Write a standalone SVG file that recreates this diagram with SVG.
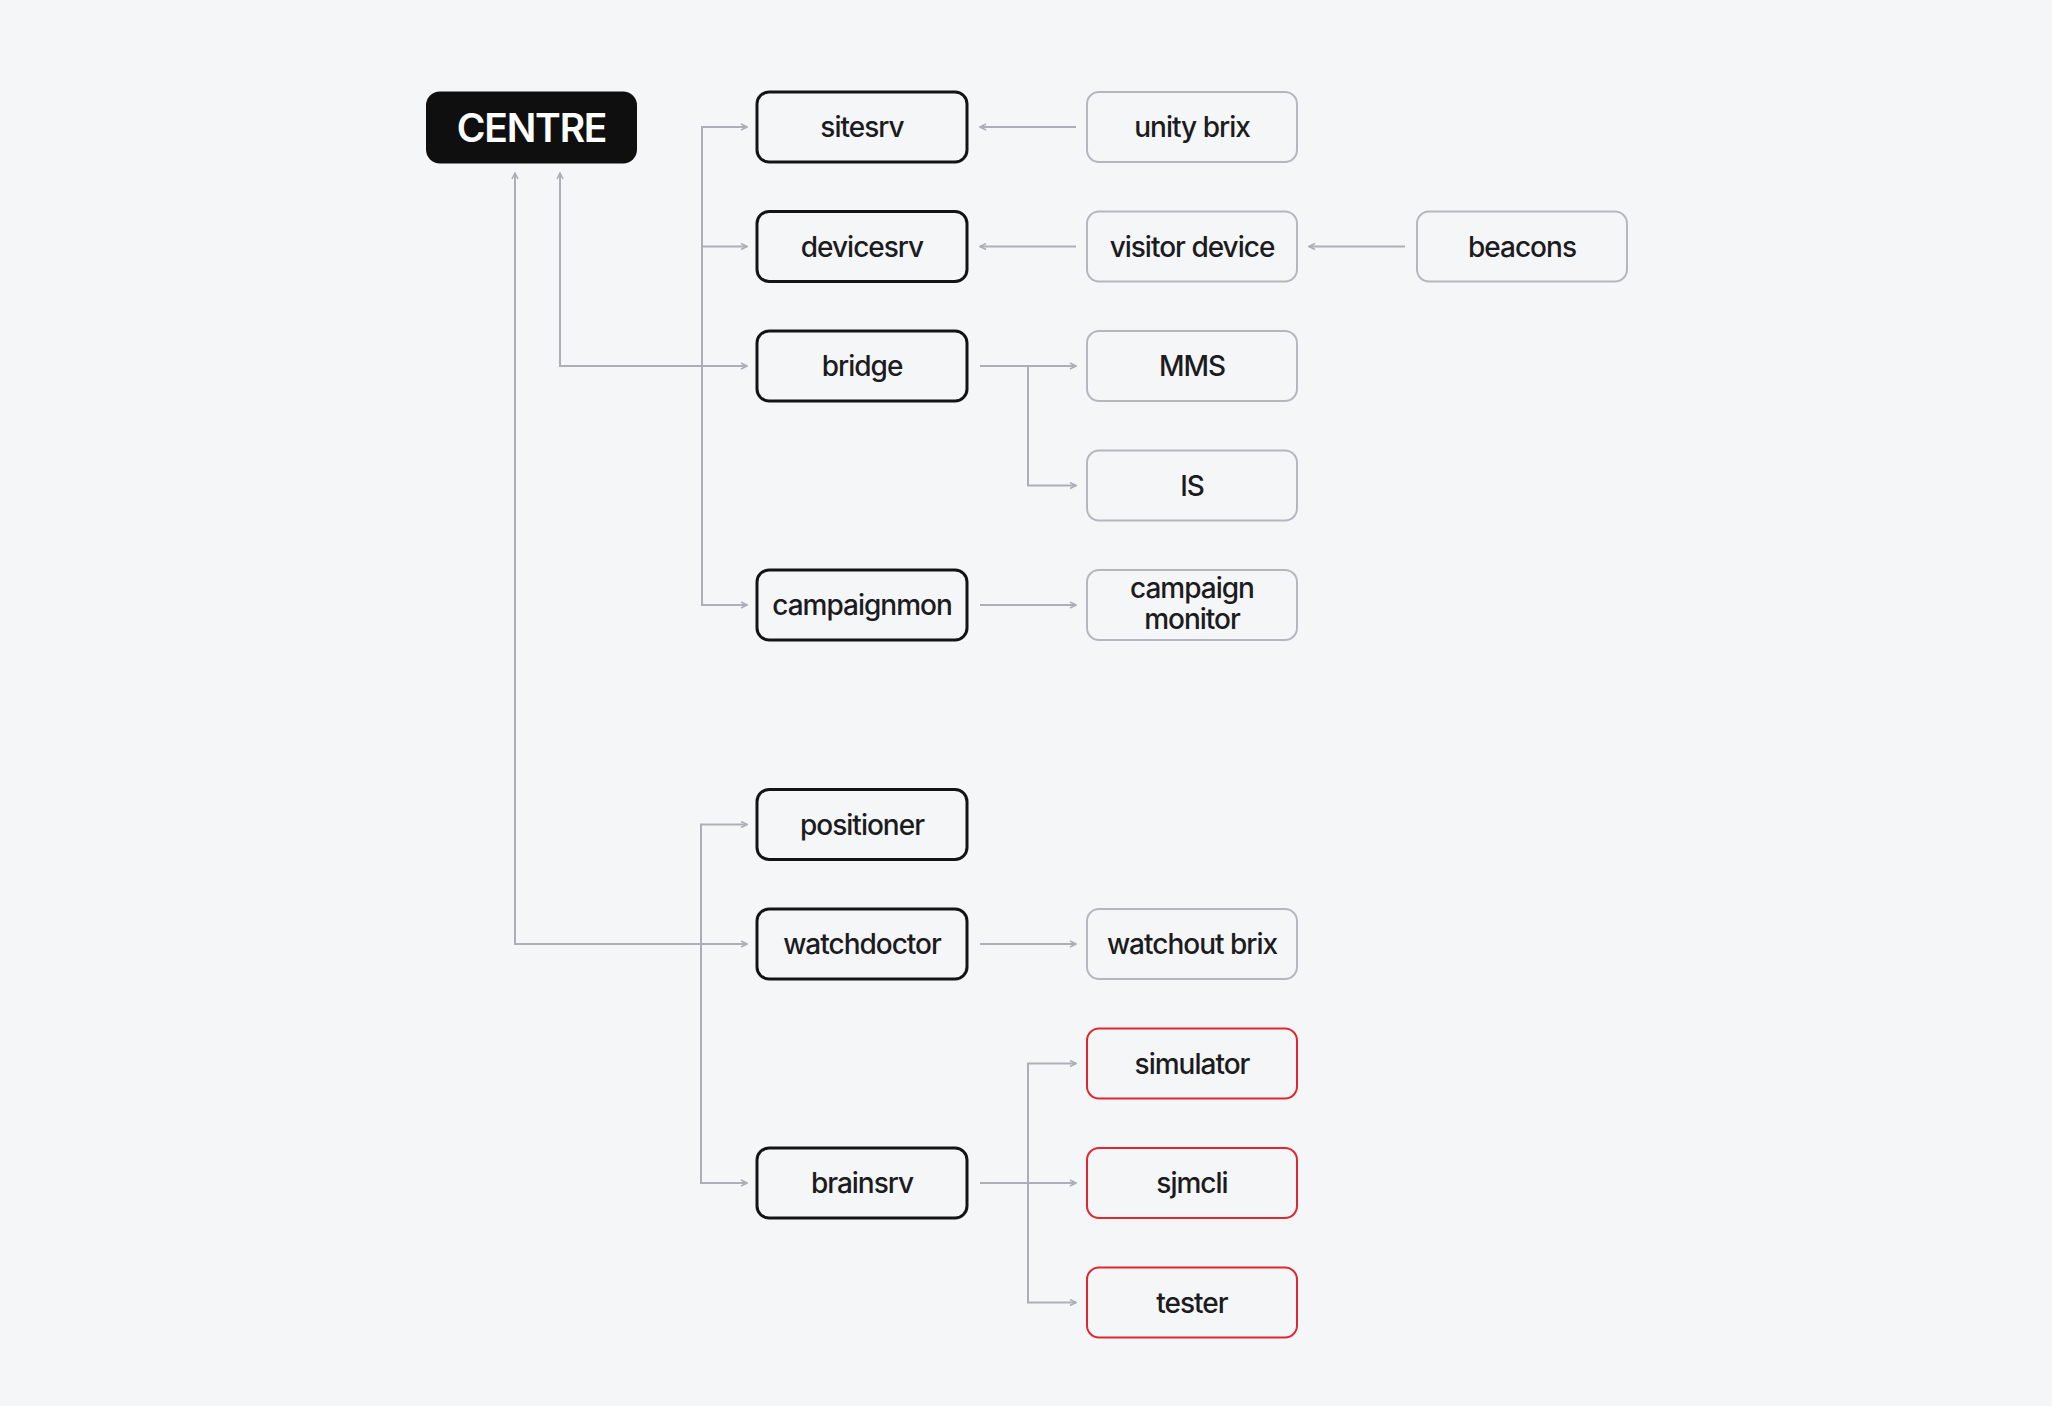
<svg xmlns="http://www.w3.org/2000/svg" width="2052" height="1406" viewBox="0 0 2052 1406">
<defs>
<style>
.bg{fill:#f5f6f8}
.dk{fill:#f5f6f8;stroke:#141414;stroke-width:3}
.gr{fill:#f5f6f8;stroke:#b4b7be;stroke-width:2}
.rd{fill:#f5f6f8;stroke:#e0262e;stroke-width:2}
.t{font-family:Inter,"Liberation Sans",sans-serif;font-size:28px;font-weight:500;fill:#1c1c1e;text-anchor:middle;letter-spacing:-1px}
.ct{font-family:Inter,"Liberation Sans",sans-serif;font-size:39px;font-weight:600;fill:#ffffff;text-anchor:middle;letter-spacing:-1.2px}
.ln{fill:none;stroke:#acafb7;stroke-width:2}
</style>
<marker id="ah" viewBox="0 0 8 8" refX="7" refY="4" markerWidth="8" markerHeight="8" markerUnits="userSpaceOnUse" orient="auto-start-reverse">
<path d="M1,1 L7,4 L1,7" fill="none" stroke="#acafb7" stroke-width="1.6"/>
</marker>
</defs>
<rect class="bg" x="0" y="0" width="2052" height="1406"/>

<g id="connectors">
<path class="ln" d="M747,127 H702 V605 H747" marker-start="url(#ah)" marker-end="url(#ah)"/>
<path class="ln" d="M702,246.5 H747" marker-end="url(#ah)"/>
<path class="ln" d="M560,173 V366 H747" marker-start="url(#ah)" marker-end="url(#ah)"/>
<path class="ln" d="M515,173 V944 H747" marker-start="url(#ah)" marker-end="url(#ah)"/>
<path class="ln" d="M747,824.5 H701 V1183 H747" marker-start="url(#ah)" marker-end="url(#ah)"/>
<path class="ln" d="M1076,127 H980" marker-end="url(#ah)"/>
<path class="ln" d="M1076,246.5 H980" marker-end="url(#ah)"/>
<path class="ln" d="M1405,246.5 H1309" marker-end="url(#ah)"/>
<path class="ln" d="M980,366 H1076" marker-end="url(#ah)"/>
<path class="ln" d="M1028,366 V485.5 H1076" marker-end="url(#ah)"/>
<path class="ln" d="M980,605 H1076" marker-end="url(#ah)"/>
<path class="ln" d="M980,944 H1076" marker-end="url(#ah)"/>
<path class="ln" d="M980,1183 H1076" marker-end="url(#ah)"/>
<path class="ln" d="M1076,1063.5 H1028 V1302.5 H1076" marker-start="url(#ah)" marker-end="url(#ah)"/>
</g>

<g id="centre">
<rect x="426" y="91.5" width="211" height="72" rx="14" fill="#0f0f10"/>
<text class="ct" x="531.5" y="141.5">CENTRE</text>
</g>

<g id="sitesrv"><rect class="dk" x="757" y="92" width="210" height="70" rx="12"/><text class="t" x="862" y="137">sitesrv</text></g>
<g id="devicesrv"><rect class="dk" x="757" y="211.5" width="210" height="70" rx="12"/><text class="t" x="862" y="256.5">devicesrv</text></g>
<g id="bridge"><rect class="dk" x="757" y="331" width="210" height="70" rx="12"/><text class="t" x="862" y="376">bridge</text></g>
<g id="campaignmon"><rect class="dk" x="757" y="570" width="210" height="70" rx="12"/><text class="t" x="862" y="615">campaignmon</text></g>
<g id="positioner"><rect class="dk" x="757" y="789.5" width="210" height="70" rx="12"/><text class="t" x="862" y="834.5">positioner</text></g>
<g id="watchdoctor"><rect class="dk" x="757" y="909" width="210" height="70" rx="12"/><text class="t" x="862" y="954">watchdoctor</text></g>
<g id="brainsrv"><rect class="dk" x="757" y="1148" width="210" height="70" rx="12"/><text class="t" x="862" y="1193">brainsrv</text></g>

<g id="unity-brix"><rect class="gr" x="1087" y="92" width="210" height="70" rx="12"/><text class="t" x="1192" y="137">unity brix</text></g>
<g id="visitor-device"><rect class="gr" x="1087" y="211.5" width="210" height="70" rx="12"/><text class="t" x="1192" y="256.5">visitor device</text></g>
<g id="beacons"><rect class="gr" x="1417" y="211.5" width="210" height="70" rx="12"/><text class="t" x="1522" y="256.5">beacons</text></g>
<g id="mms"><rect class="gr" x="1087" y="331" width="210" height="70" rx="12"/><text class="t" x="1192" y="376">MMS</text></g>
<g id="is"><rect class="gr" x="1087" y="450.5" width="210" height="70" rx="12"/><text class="t" x="1192" y="495.5">IS</text></g>
<g id="campaign-monitor"><rect class="gr" x="1087" y="570" width="210" height="70" rx="12"/><text class="t" x="1192" y="598">campaign</text><text class="t" x="1192" y="629">monitor</text></g>
<g id="watchout-brix"><rect class="gr" x="1087" y="909" width="210" height="70" rx="12"/><text class="t" x="1192" y="954">watchout brix</text></g>
<g id="simulator"><rect class="rd" x="1087" y="1028.5" width="210" height="70" rx="12"/><text class="t" x="1192" y="1073.5">simulator</text></g>
<g id="sjmcli"><rect class="rd" x="1087" y="1148" width="210" height="70" rx="12"/><text class="t" x="1192" y="1193">sjmcli</text></g>
<g id="tester"><rect class="rd" x="1087" y="1267.5" width="210" height="70" rx="12"/><text class="t" x="1192" y="1312.5">tester</text></g>
</svg>
